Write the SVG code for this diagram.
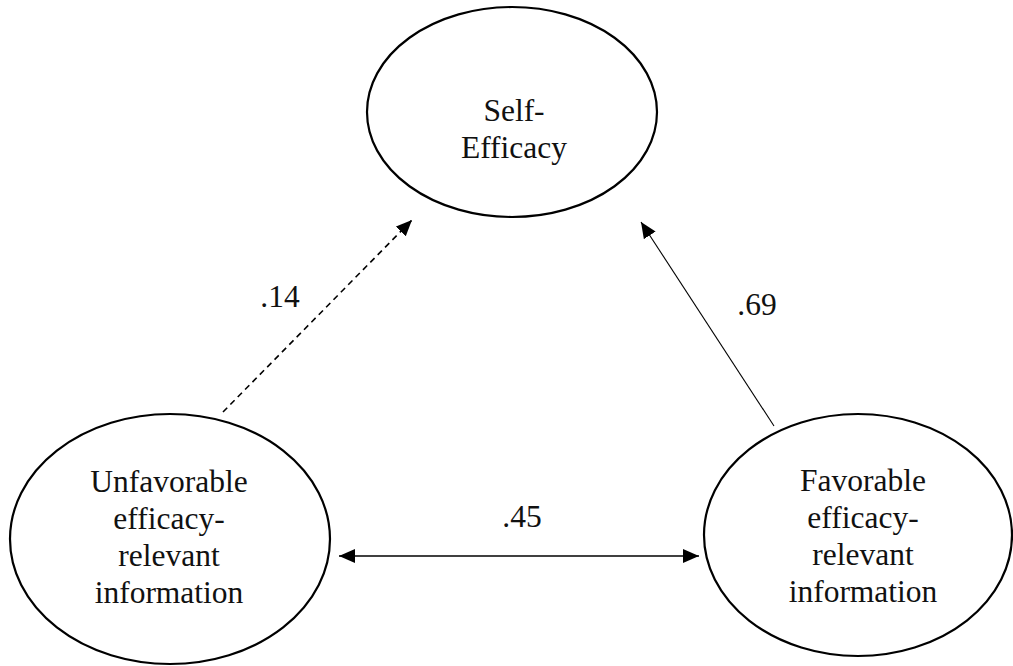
<svg xmlns="http://www.w3.org/2000/svg" width="1013" height="666" viewBox="0 0 1013 666">
  <style>
    .node ellipse { fill: #ffffff; stroke: #000000; stroke-width: 2.2; }
    .node text, .lbl { font-family: "Liberation Serif", "Times New Roman", serif; font-size: 31.5px; fill: #111111; text-anchor: middle; }
    .conn { fill: none; stroke: #000000; }
  </style>
  <defs>
    <marker id="ah" markerUnits="userSpaceOnUse" markerWidth="17" markerHeight="15" refX="16" refY="7" orient="auto-start-reverse">
      <path d="M0,0 L16,7 L0,14 z" fill="#000000"/>
    </marker>
  </defs>
  <rect width="1013" height="666" fill="#ffffff"/>
  <g id="node-self-efficacy" class="node">
    <ellipse cx="512" cy="112" rx="145" ry="105"/>
    <text x="514" y="121">Self-</text>
    <text x="514" y="158">Efficacy</text>
  </g>
  <g id="node-unfavorable" class="node">
    <ellipse cx="170" cy="539" rx="160" ry="125"/>
    <text x="169" y="492">Unfavorable</text>
    <text x="169" y="529">efficacy-</text>
    <text x="169" y="566">relevant</text>
    <text x="169" y="603">information</text>
  </g>
  <g id="node-favorable" class="node">
    <ellipse cx="858" cy="535" rx="154" ry="121"/>
    <text x="863" y="491">Favorable</text>
    <text x="863" y="528">efficacy-</text>
    <text x="863" y="565">relevant</text>
    <text x="863" y="602">information</text>
  </g>
  <g id="connectors">
    <line class="conn" x1="223" y1="412" x2="412" y2="220" stroke-width="1.6" stroke-dasharray="6,4.5" marker-end="url(#ah)"/>
    <line class="conn" x1="774" y1="426" x2="641" y2="222" stroke-width="1.1" marker-end="url(#ah)"/>
    <line class="conn" x1="339" y1="556" x2="699" y2="556" stroke="#3a3a3a" stroke-width="1.6" marker-start="url(#ah)" marker-end="url(#ah)"/>
    <text class="lbl" x="280" y="307">.14</text>
    <text class="lbl" x="757" y="315">.69</text>
    <text class="lbl" x="522" y="527">.45</text>
  </g>
</svg>
